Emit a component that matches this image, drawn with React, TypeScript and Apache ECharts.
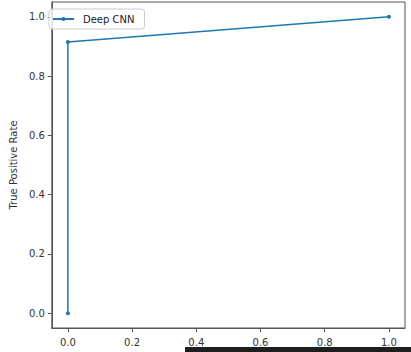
import React, { useEffect, useRef } from "react";
import * as echarts from "echarts";

const seriesName = "Deep CNN";
const fprValues = [0, 0, 1];
const tprValues = [0, 0.915, 1];
const xTicks = [0, 0.2, 0.4, 0.6, 0.8, 1.0];
const yTicks = [0, 0.2, 0.4, 0.6, 0.8, 1.0];
const yAxisTitle = "True Positive Rate";

export default function App() {
  const ref = useRef<HTMLDivElement>(null);
  useEffect(() => {
    if (!ref.current) return;
    const chart = echarts.init(ref.current, null, { renderer: "svg" });
    const font = "DejaVu Sans";
    const data = fprValues.map((x, i) => [x, tprValues[i]]);
    chart.setOption({
      animation: false,
      backgroundColor: "#ffffff",
      grid: {
        left: 45,
        right: 6,
        top: 2,
        bottom: 24,
        show: true,
        borderColor: "#555",
        borderWidth: 1,
        backgroundColor: "transparent",
      },
      legend: {
        left: 49,
        top: 9,
        data: [seriesName],
        itemWidth: 21,
        itemHeight: 5,
        padding: [4, 10, 4, 3],
        borderColor: "#cccccc",
        borderWidth: 1,
        borderRadius: 3,
        backgroundColor: "rgba(255,255,255,0.8)",
        textStyle: {
          fontFamily: font,
          fontSize: 10,
          color: "#222",
          padding: [0, 0, 0, 4],
          lineHeight: 12,
        },
      },
      xAxis: {
        type: "value",
        min: -0.05,
        max: 1.05,
        splitLine: { show: false },
        axisLine: { show: true, onZero: false, lineStyle: { color: "#555" } },
        axisTick: {
          show: true,
          length: 4,
          inside: false,
          customValues: xTicks,
          lineStyle: { color: "#555" },
        },
        axisLabel: {
          customValues: xTicks,
          formatter: (v: number) => v.toFixed(1),
          fontFamily: font,
          fontSize: 10,
          color: "#333",
          margin: 9,
        },
      },
      yAxis: {
        type: "value",
        min: -0.05,
        max: 1.05,
        name: yAxisTitle,
        nameLocation: "middle",
        nameGap: 31,
        nameTextStyle: { fontFamily: font, fontSize: 10, color: "#333" },
        splitLine: { show: false },
        axisLine: { show: true, onZero: false, lineStyle: { color: "#555" } },
        axisTick: {
          show: true,
          length: 4,
          inside: false,
          customValues: yTicks,
          lineStyle: { color: "#555" },
        },
        axisLabel: {
          customValues: yTicks,
          formatter: (v: number) => v.toFixed(1),
          fontFamily: font,
          fontSize: 10,
          color: "#333",
          margin: 7,
        },
      },
      series: [
        {
          name: seriesName,
          type: "line",
          data,
          symbol: "circle",
          symbolSize: 4,
          showSymbol: true,
          itemStyle: { color: "#1f77b4" },
          lineStyle: { color: "#1f77b4", width: 1.5 },
        },
      ],
      graphic: [
        {
          type: "rect",
          left: 185,
          top: 347,
          shape: { width: 226, height: 5 },
          style: { fill: "#1e1e1e" },
          z: 100,
        },
      ],
    });
    return () => chart.dispose();
  }, []);
  return (
    <div
      ref={ref}
      style={{ position: "absolute", left: 0, top: 0, width: 411, height: 352 }}
    />
  );
}
